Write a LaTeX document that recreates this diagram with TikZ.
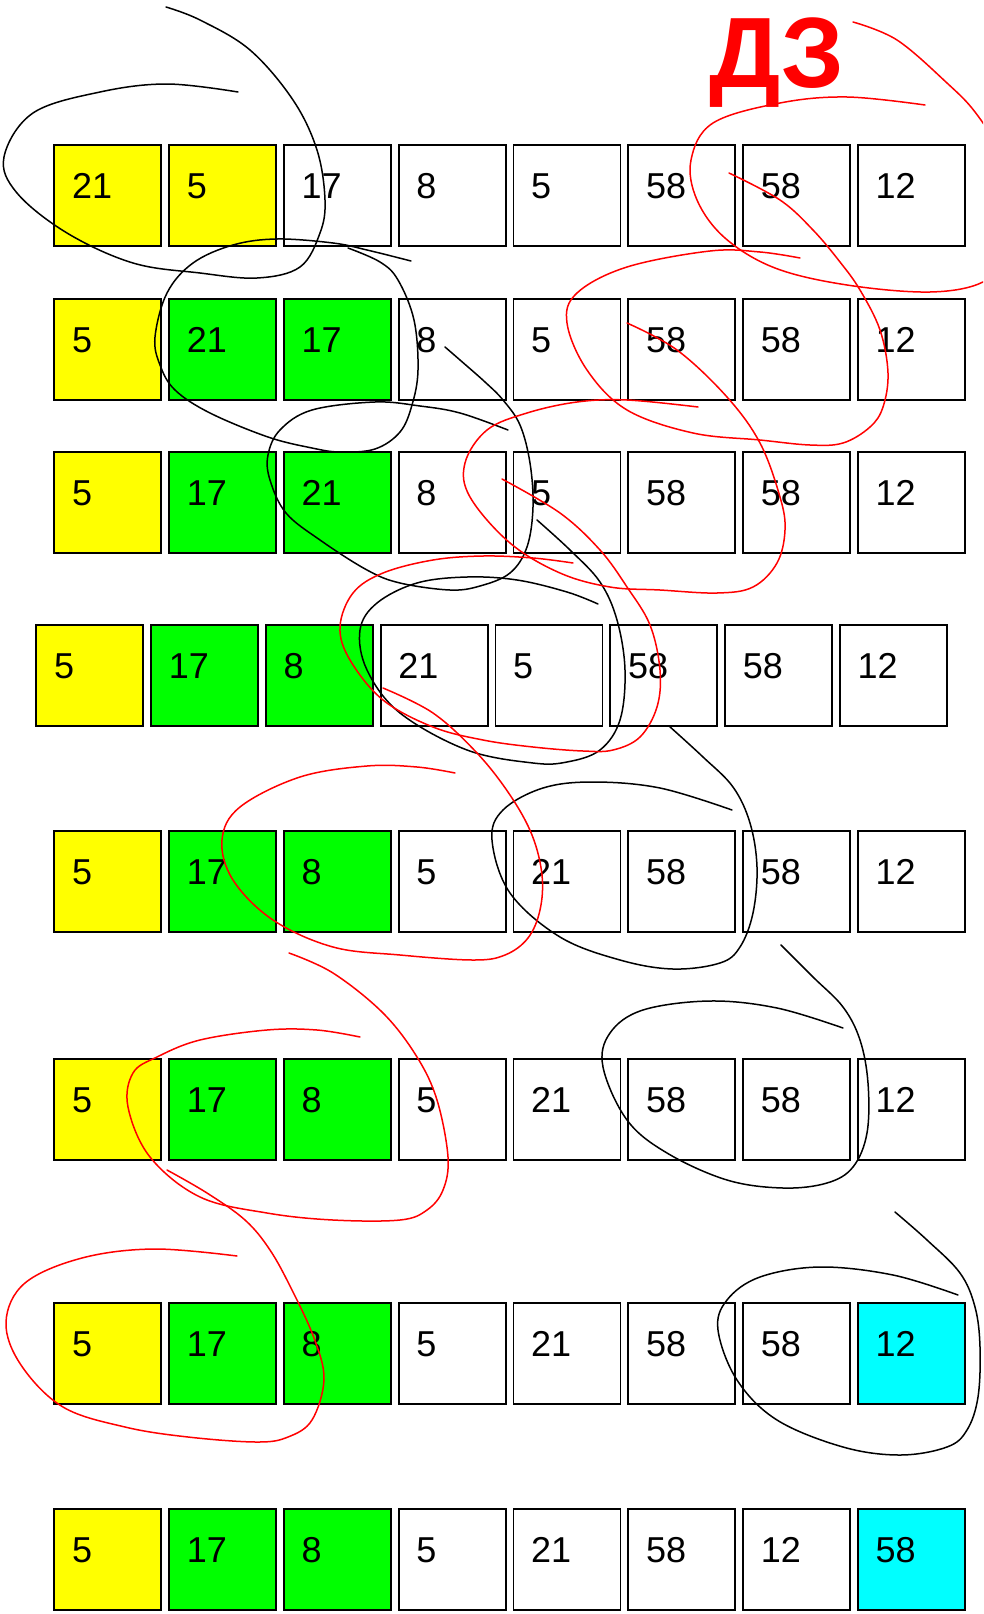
\documentclass[tikz,border=0pt]{standalone}
\usepackage{fontspec}
\setmainfont{Liberation Sans}
\definecolor{yel}{RGB}{255,255,0}
\definecolor{grn}{RGB}{0,255,0}
\definecolor{cyn}{RGB}{0,255,255}
\definecolor{redink}{RGB}{255,0,0}
\tikzset{
  cell/.style={draw=black, line width=1.8pt, minimum width=107pt, minimum height=101pt, anchor=north west, inner sep=0pt, outer sep=0pt},
  num/.style={anchor=base west, inner sep=0pt, font=\fontsize{36}{40}\selectfont},
  blackink/.style={draw=black, line width=1.5pt, line cap=round, line join=round},
  redstroke/.style={draw=redink, line width=1.5pt, line cap=round, line join=round},
}
\newcommand\cellrow[4]{%
  \foreach \f/\t [count=\i from 0] in {#4} {
    \node[cell, fill=\f] (#1c\i) at ({#2+114.8*\i}, #3) {};
    \node[num] (#1t\i) at ([xshift=17.5pt, yshift=-53pt]#1c\i.north west) {\t};
  }}
\begin{document}
\begin{tikzpicture}[x=1pt, y=-1pt]
\useasboundingbox (0,0) rectangle (983,1614);
\fill[white] (0,0) rectangle (983,1614);

\cellrow{a}{54.3}{145}{yel/21,yel/5,white/17,white/8,white/5,white/58,white/58,white/12}
\cellrow{b}{54.3}{299}{yel/5,grn/21,grn/17,white/8,white/5,white/58,white/58,white/12}
\cellrow{c}{54.3}{452}{yel/5,grn/17,grn/21,white/8,white/5,white/58,white/58,white/12}
\cellrow{d}{36.3}{625}{yel/5,grn/17,grn/8,white/21,white/5,white/58,white/58,white/12}
\cellrow{e}{54.3}{831}{yel/5,grn/17,grn/8,white/5,white/21,white/58,white/58,white/12}
\cellrow{f}{54.3}{1059}{yel/5,grn/17,grn/8,white/5,white/21,white/58,white/58,white/12}
\cellrow{g}{54.3}{1303}{yel/5,grn/17,grn/8,white/5,white/21,white/58,white/58,cyn/12}
\cellrow{h}{54.3}{1509}{yel/5,grn/17,grn/8,white/5,white/21,white/58,white/12,cyn/58}

\node[anchor=base west, inner sep=0pt, text=redink, font=\fontsize{100}{100}\selectfont\bfseries] (hw) at (709,87) {ДЗ};

\begin{scope}
\clip (0,0) rectangle (983,1614);
% black strokes
\draw[blackink] plot[smooth, tension=0.6] coordinates {(238,92) (167,84) (100,92) (33,113) (4,157) (17,193) (67,233) (133,263) (200,273) (257,278) (300,267) (320,233) (325,200) (317,150) (293,100) (250,50) (200,20) (166,7)};
\draw[blackink] plot[smooth, tension=0.6] coordinates {(411,261) (367,250) (333,243) (277,239) (233,245) (193,263) (167,293) (155,337) (160,365) (175,390) (210,413) (268,437) (312,448) (340,452) (375,449) (400,432) (412,405) (418,370) (414,320) (398,280) (380,262) (348,248)};
\draw[blackink] plot[smooth, tension=0.6] coordinates {(445,347) (460,360) (485,382) (503,400) (520,425) (530,463) (533,507) (527,547) (510,573) (480,586) (450,590) (400,583) (367,570) (320,540) (286,513) (270,480) (268,455) (280,430) (312,410) (375,402) (420,406) (460,413) (508,430)};
\draw[blackink] plot[smooth, tension=0.6] coordinates {(537,520) (570,550) (600,582) (617,620) (625,670) (620,720) (600,750) (567,762) (533,763) (467,750) (400,713) (367,670) (360,630) (377,603) (417,583) (467,577) (517,580) (567,592) (598,604)};
\draw[blackink] plot[smooth, tension=0.6] coordinates {(669,726) (703,757) (733,787) (750,823) (757,867) (753,913) (740,947) (720,963) (673,969) (620,960) (560,937) (510,893) (492,840) (503,810) (543,788) (593,782) (660,788) (732,810)};
\draw[blackink] plot[smooth, tension=0.6] coordinates {(781,945) (813,977) (843,1007) (860,1040) (868,1083) (867,1133) (853,1167) (827,1183) (783,1188) (727,1180) (667,1153) (627,1120) (603,1067) (610,1033) (643,1010) (710,1001) (777,1008) (843,1028)};
\draw[blackink] plot[smooth, tension=0.6] coordinates {(895,1212) (927,1240) (960,1273) (975,1307) (980,1347) (978,1397) (967,1430) (947,1447) (900,1455) (843,1447) (777,1420) (737,1380) (718,1330) (727,1300) (760,1277) (820,1267) (893,1275) (958,1295)};
% red strokes
\draw[redstroke] plot[smooth, tension=0.6] coordinates {(925,105) (847,97) (780,103) (713,123) (691,160) (697,200) (725,238) (775,268) (847,285) (930,292) (983,282) (1005,255) (1010,200) (998,150) (975,112) (947,83) (897,40) (853,22)};
\draw[redstroke] plot[smooth, tension=0.6] coordinates {(729,173) (780,200) (813,230) (840,262) (860,290) (880,330) (888,373) (883,407) (870,427) (843,443) (810,445) (760,440) (693,433) (627,410) (587,370) (567,323) (577,293) (627,267) (710,251) (760,252) (800,258)};
\draw[redstroke] plot[smooth, tension=0.6] coordinates {(627,323) (677,350) (727,397) (760,443) (780,497) (785,530) (777,563) (753,587) (717,593) (660,590) (610,587) (560,573) (510,543) (470,497) (465,463) (487,430) (527,413) (577,402) (627,400) (698,407)};
\draw[redstroke] plot[smooth, tension=0.6] coordinates {(502,479) (560,513) (600,550) (627,587) (650,625) (660,670) (657,707) (640,737) (613,750) (583,751) (533,747) (483,740) (433,727) (383,700) (350,660) (340,627) (353,593) (383,573) (433,560) (483,556) (533,558) (573,563)};
\draw[redstroke] plot[smooth, tension=0.6] coordinates {(383,688) (433,713) (477,753) (510,795) (532,835) (542,875) (540,910) (528,938) (505,955) (473,960) (400,955) (333,947) (273,920) (233,880) (222,840) (240,807) (300,777) (367,766) (417,767) (455,773)};
\draw[redstroke] plot[smooth, tension=0.6] coordinates {(289,953) (333,973) (383,1013) (417,1057) (437,1100) (448,1157) (443,1190) (427,1210) (400,1220) (333,1220) (267,1213) (200,1197) (150,1157) (128,1107) (133,1073) (157,1057) (200,1040) (267,1030) (317,1030) (360,1037)};
\draw[redstroke] plot[smooth, tension=0.6] coordinates {(167,1170) (207,1193) (245,1220) (270,1250) (292,1290) (314,1338) (324,1379) (312,1420) (288,1437) (257,1442) (188,1437) (125,1427) (63,1407) (21,1365) (6,1322) (25,1283) (82,1258) (154,1249) (237,1256)};
\end{scope}
\end{tikzpicture}
\end{document}
